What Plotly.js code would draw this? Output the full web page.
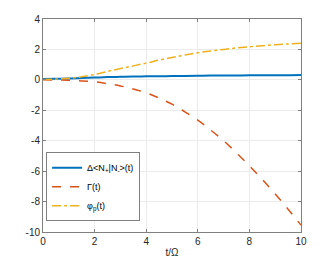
<!DOCTYPE html>
<html>
<head>
<meta charset="utf-8">
<script src="https://cdn.plot.ly/plotly-3.0.1.min.js"></script>
<style>html,body{margin:0;padding:0;background:#fff;}#chart{width:332px;height:260px;}</style>
</head>
<body>
<div id="chart"></div>
<script>
const t = [0, 0.5, 1, 1.5, 2, 2.5, 3, 3.5, 4, 4.5, 5, 5.5, 6, 6.5, 7, 7.5, 8, 8.5, 9, 9.5, 10];
const deltaN = [0.05, 0.07, 0.09, 0.12, 0.15, 0.18, 0.2, 0.22, 0.23, 0.24, 0.25, 0.26, 0.27, 0.28, 0.28, 0.29, 0.3, 0.3, 0.31, 0.31, 0.32];
const gamma = [0, -0.01, -0.03, -0.07, -0.13, -0.25, -0.4, -0.6, -0.85, -1.2, -1.6, -2.1, -2.65, -3.3, -4.0, -4.8, -5.65, -6.55, -7.5, -8.5, -9.55];
const phiP = [0.02, 0.05, 0.1, 0.2, 0.35, 0.55, 0.75, 0.92, 1.1, 1.3, 1.47, 1.63, 1.78, 1.9, 2.0, 2.1, 2.18, 2.25, 2.31, 2.36, 2.41];
const names = ['Δ<N<sub>+</sub>|N<sub>-</sub>>(t)', 'Γ(t)', 'φ<sub>p</sub>(t)'];
const xTicks = [0, 2, 4, 6, 8, 10];
const yTicks = [-10, -8, -6, -4, -2, 0, 2, 4];

const data = [
  {x: t, y: deltaN, name: names[0], mode: 'lines', line: {color: '#0072BD', width: 2, shape: 'spline'}},
  {x: t, y: gamma, name: names[1], mode: 'lines', line: {color: '#D95319', width: 1.5, dash: 'dash', shape: 'spline'}},
  {x: t, y: phiP, name: names[2], mode: 'lines', line: {color: '#EDB120', width: 1.5, dash: 'dashdot', shape: 'spline'}}
];

const axisCommon = {
  showline: true, mirror: 'ticks', linecolor: '#808080', linewidth: 1,
  ticks: 'inside', ticklen: 3, tickcolor: '#808080',
  showgrid: true, gridcolor: '#ececec', gridwidth: 1, zeroline: false,
  tickfont: {family: 'Liberation Sans, Arial, sans-serif', size: 10, color: '#262626'}
};

const layout = {
  width: 332, height: 260,
  margin: {l: 43, r: 31, t: 19, b: 28},
  paper_bgcolor: '#fff', plot_bgcolor: '#fff',
  showlegend: true,
  legend: {
    x: 0.012, y: 0.05, xanchor: 'left', yanchor: 'bottom',
    bgcolor: '#fff', bordercolor: '#808080', borderwidth: 1,
    font: {family: 'Liberation Sans, Arial, sans-serif', size: 9, color: '#000'},
    tracegroupgap: 0, itemwidth: 30
  },
  xaxis: Object.assign({}, axisCommon, {
    range: [0, 10], tickvals: xTicks, ticktext: xTicks.map(String),
    title: {text: 't/Ω', font: {family: 'Liberation Sans, Arial, sans-serif', size: 10, color: '#262626'}, standoff: 2}
  }),
  yaxis: Object.assign({}, axisCommon, {
    range: [-10, 4], tickvals: yTicks, ticktext: yTicks.map(String)
  })
};

Plotly.newPlot('chart', data, layout, {displayModeBar: false, staticPlot: true});
</script>
</body>
</html>
